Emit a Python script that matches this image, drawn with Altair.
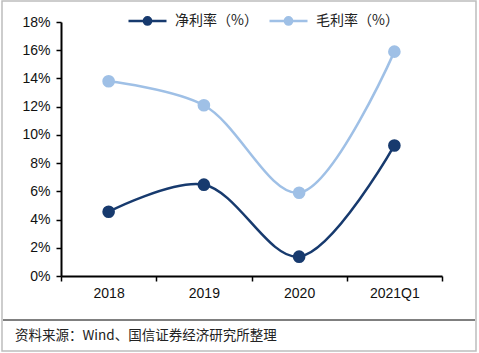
import altair as alt
import pandas as pd

years = ["2018", "2019", "2020", "2021Q1"]
net_margin = [4.55, 6.47, 1.37, 9.25]
gross_margin = [13.8, 12.1, 5.9, 15.9]
series_names = ["净利率（%）", "毛利率（%）"]
colors = ["#173a6e", "#9fc0e6"]
y_ticks = [0, 2, 4, 6, 8, 10, 12, 14, 16, 18]
source_text = "资料来源：Wind、国信证券经济研究所整理"

rows = []
for name, vals in zip(series_names, [net_margin, gross_margin]):
    for yr, v in zip(years, vals):
        rows.append({"year": yr, "value": v, "series": name})
df = pd.DataFrame(rows)

W, H = 381, 254
LEFT, TOP = 61, 22

legend_path = ("M-1,0 L1,0 M-0.19,0 A0.19,0.19 0 1,1 0.19,0 "
               "A0.19,0.19 0 1,1 -0.19,0 Z")

x_enc = alt.X("year:N", sort=years, bandPosition=0.5,
              scale=alt.Scale(type="band", paddingInner=0, paddingOuter=0),
              axis=alt.Axis(title=None, tickBand="extent", labelAngle=0,
                            domainColor="black", tickColor="black",
                            domainWidth=2, tickWidth=1.5, tickSize=5,
                            labelFont="Liberation Sans", labelFontSize=14,
                            labelColor="#111111", labelPadding=5, grid=False))
y_enc = alt.Y("value:Q",
              scale=alt.Scale(domain=[0, 18], nice=False),
              axis=alt.Axis(title=None, values=y_ticks,
                            labelExpr="datum.value + '%'",
                            domainColor="black", tickColor="black",
                            domainWidth=2, tickWidth=1.5, tickSize=5,
                            labelFont="Liberation Sans", labelFontSize=14,
                            labelColor="#111111", labelPadding=6, grid=False))
color_enc = alt.Color("series:N", sort=series_names,
                      scale=alt.Scale(domain=series_names, range=colors),
                      legend=alt.Legend(title=None, orient="none",
                                        direction="horizontal",
                                        legendX=127 - LEFT, legendY=-22,
                                        padding=0,
                                        symbolType=legend_path, symbolSize=1444,
                                        symbolStrokeWidth=2.5,
                                        labelFont="Noto Sans CJK SC",
                                        labelFontSize=14, labelColor="#222222",
                                        columnPadding=6, labelOffset=7))

base = alt.Chart(df)
lines = base.mark_line(interpolate="catmull-rom", strokeWidth=2.5).encode(
    x=x_enc, y=y_enc, color=color_enc)
points = base.mark_point(filled=True, size=160, opacity=1).encode(
    x=x_enc, y=y_enc, color=alt.Color("series:N", sort=series_names,
                                       scale=alt.Scale(domain=series_names, range=colors),
                                       legend=None))

frame = alt.Chart(pd.DataFrame({"a": [0]})).mark_rect(
    fill=None, stroke="#bdbdbd", strokeWidth=1.5).encode(
    x=alt.value(2 - LEFT), x2=alt.value(476 - LEFT),
    y=alt.value(1 - TOP), y2=alt.value(351 - TOP))

sep = alt.Chart(pd.DataFrame({"a": [0]})).mark_rule(
    color="black", strokeWidth=1).encode(
    x=alt.value(3 - LEFT), x2=alt.value(475 - LEFT),
    y=alt.value(320 - TOP))

src = alt.Chart(pd.DataFrame({"t": [source_text]})).mark_text(
    align="left", baseline="middle", font="Noto Sans CJK SC",
    fontSize=13.5, color="#222222").encode(
    x=alt.value(15 - LEFT), y=alt.value(336 - TOP), text="t:N")

chart = alt.layer(frame, sep, lines, points, src).properties(
    width=W, height=H,
    autosize=alt.AutoSizeParams(type="none"),
    padding={"left": LEFT, "top": TOP, "right": 479 - LEFT - W,
             "bottom": 353 - TOP - H},
    background="white",
).configure_view(stroke=None).resolve_scale(color="shared")

chart.save("out.html", embed_options={"renderer": "svg", "actions": False})
